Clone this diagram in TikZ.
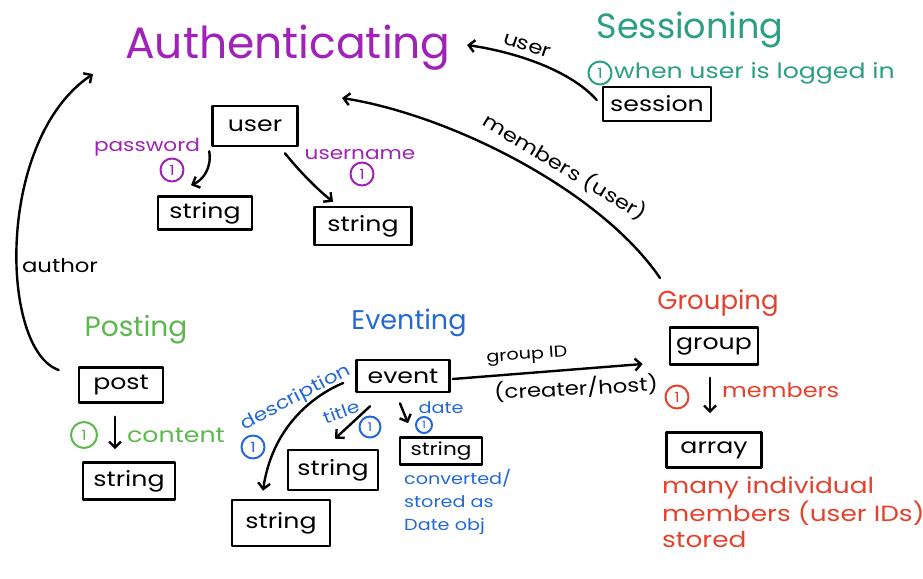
\documentclass[tikz,border=0pt]{standalone}
\usepackage{fontspec}
\setmainfont{Poppins}
\newfontfamily\hw[FakeStretch=1.2]{Poppins}
\usetikzlibrary{arrows.meta}
\definecolor{cpur}{HTML}{A022B8}
\definecolor{cteal}{HTML}{2A9F84}
\definecolor{cgreen}{HTML}{5CB84D}
\definecolor{cblue}{HTML}{2468D8}
\definecolor{cred}{HTML}{E6412C}
\newcommand{\fs}[1]{\fontsize{#1}{#1}\selectfont}
\newcommand{\fsb}[2]{\fontsize{#1}{#2}\selectfont}
\begin{document}
\begin{tikzpicture}[x=1pt,y=-1pt,line cap=round,line join=round,
  box/.style={draw=black,line width=2.6pt,inner sep=0pt,font=\hw\fs{21}},
  arr/.style={draw=black,line width=2.4pt,-{Straight Barb[length=6pt,width=12pt]}},
  num/.style={circle,draw,line width=2pt,inner sep=0pt,minimum size=#1,font=\hw\fs{14}},
  num/.default=23pt,
  lbl/.style={inner sep=0pt,font=\hw\fs{#1}},
  lbl/.default=18,
  ttl/.style={inner sep=0pt,font=\fs{#1}}]
\useasboundingbox (0,0) rectangle (923,578);
% titles
\node[ttl=44,text=cpur] (auth) at (288,48) {Authenticating};
\node[ttl=35,text=cteal] (sesT) at (690,30) {Sessioning};
\node[ttl=28,text=cgreen] (postT) at (136,330) {Posting};
\node[ttl=27,text=cblue] (evT) at (409,323) {Eventing};
\node[ttl=26,text=cred] (grpT) at (718,303) {Grouping};
% sessioning
\node[num,draw=cteal,text=cteal] (sesN) at (600,73) {1};
\node[lbl=21,text=cteal,anchor=west] (sesNote) at (614,73) {when user is logged in};
\node[box,minimum width=108pt,minimum height=34pt] (session) at (657,104) {session};
% authenticating
\node[box,minimum width=85pt,minimum height=40pt] (user) at (255,126) {user};
\node[lbl=18,text=cpur] (pw) at (147,147) {password};
\node[num,draw=cpur,text=cpur] (pwN) at (172,170) {1};
\node[box,minimum width=94pt,minimum height=33pt] (str1) at (205,213) {string};
\node[lbl=18,text=cpur] (un) at (360,155) {username};
\node[num,draw=cpur,text=cpur] (unN) at (362,174) {1};
\node[box,minimum width=97pt,minimum height=38pt] (str2) at (363,226) {string};
% posting
\node[lbl=19] (authorL) at (60,266) {author};
\node[box,minimum width=84pt,minimum height=35pt] (post) at (121,385) {post};
\node[num=26pt,draw=cgreen,text=cgreen] (postN) at (84,435) {1};
\node[lbl=21,text=cgreen,anchor=west] (content) at (127,435) {content};
\node[box,minimum width=92pt,minimum height=37pt] (strP) at (129,481) {string};
% eventing
\node[box,minimum width=93pt,minimum height=32pt] (event) at (403,376) {event};
\node[lbl=18,text=cblue,rotate=28] (desc) at (296,398) {description};
\node[num,draw=cblue,text=cblue] (descN) at (253,447) {1};
\node[lbl=17,text=cblue,rotate=20] (titleL) at (341,412) {title};
\node[num=21pt,draw=cblue,text=cblue,font=\hw\fs{12}] (titleN) at (370,427) {1};
\node[lbl=16,text=cblue] (dateL) at (441,408) {date};
\node[num=16pt,draw=cblue,text=cblue,font=\hw\fs{10}] (dateN) at (424,425) {1};
\node[box,minimum width=82pt,minimum height=27pt,font=\hw\fs{18}] (strDt) at (441,451) {string};
\node[box,minimum width=90pt,minimum height=40pt] (strT) at (333,470) {string};
\node[box,minimum width=98pt,minimum height=46pt] (strD) at (281,523) {string};
\node[inner sep=0pt,text=cblue,anchor=north west,align=left,font=\hw\fsb{16}{23}] (conv) at (404,469) {converted/\\stored as\\Date obj};
% grouping
\node[box,minimum width=88pt,minimum height=37pt] (group) at (714,346) {group};
\node[num,draw=cred,text=cred] (grpN) at (677,397) {1};
\node[lbl=20,text=cred,anchor=west] (mem) at (722,390) {members};
\node[box,minimum width=95pt,minimum height=35pt] (array) at (714,450) {array};
\node[inner sep=0pt,text=cred,anchor=north west,align=left,font=\hw\fsb{22}{26}] (many) at (662,477) {many individual\\members (user IDs)\\stored};
% connectors
\coordinate (authR) at (467,45);
\coordinate (authM) at (342,98);
\coordinate (authL) at (93,74);
\draw[arr] ([shift={(-5,-4)}]session.west) .. controls (570,70) and (515,52) .. (authR);
\node[lbl=19,rotate=-18] (userL) at (527,46) {user};
\draw[arr] ([shift={(-58,-25)}]grpT.center) .. controls (600,190) and (450,115) .. (authM);
\node[lbl=19,rotate=-31] (memL) at (565,167) {members (user)};
\draw[arr] ([shift={(-19,-15)}]post.west) .. controls (0,350) and (-5,140) .. (authL);
\draw[arr] ([shift={(-2,4)}]user.south west) .. controls (212,168) and (203,180) .. ([shift={(-14,-10)}]str1.north);
\draw[arr] ([shift={(30,6)}]user.south) .. controls (300,172) and (318,190) .. ([shift={(-30,-4)}]str2.north);
\draw[arr] ([shift={(-6,13)}]post.south) -- ([shift={(-14,-12)}]strP.north);
\draw[arr] ([shift={(2,3)}]event.east) -- ([shift={(-26,18)}]group.west);
\node[lbl=16,rotate=4] (gid) at (527,356) {group ID};
\node[lbl=19,rotate=3] (crh) at (576,388) {(creater/host)};
\draw[arr] ([shift={(-12,7)}]event.west) .. controls (312,396) and (272,428) .. ([shift={(-18,-8)}]strD.north);
\draw[arr] ([shift={(-33,13)}]event.south) -- ([shift={(2,-10)}]strT.north);
\draw[arr] ([shift={(-3,10)}]event.south) -- ([shift={(-33,-13)}]strDt.north);
\draw[arr] ([shift={(-4,12)}]group.south) -- ([shift={(-4,-18)}]array.north);
\end{tikzpicture}
\end{document}
